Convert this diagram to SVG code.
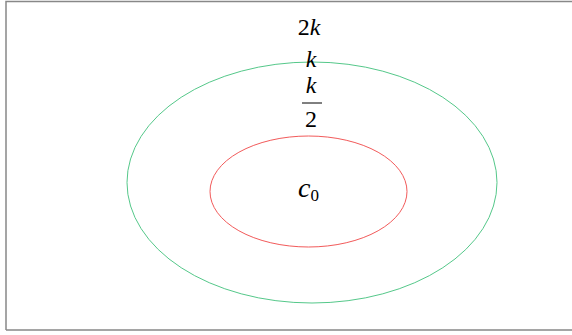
<svg xmlns="http://www.w3.org/2000/svg" width="572" height="335" viewBox="0 0 572 335">
<rect width="572" height="335" fill="#fff"/>
<path d="M6 330 V1.5 H572 M6 330 H572" fill="none" stroke="#888" stroke-width="1.5"/>
<g id="outer"><ellipse cx="312" cy="182.5" rx="185" ry="120.5" fill="none" stroke="#55c88a" stroke-width="1"/></g>
<g id="inner"><ellipse cx="308.5" cy="191.5" rx="98.5" ry="55.5" fill="none" stroke="#f25a5a" stroke-width="1"/></g>
<g id="labels" font-family="'Liberation Serif', 'Times New Roman', serif" font-size="24" fill="#000">
<text x="309" y="35" text-anchor="middle">2<tspan font-style="italic">k</tspan></text>
<text font-style="italic" x="311" y="67" text-anchor="middle">k</text>
<text font-style="italic" x="311" y="93" text-anchor="middle">k</text>
<line x1="302" y1="103" x2="322" y2="103" stroke="#000" stroke-width="1"/>
<text x="311" y="127" text-anchor="middle">2</text>
<text x="298" y="197"><tspan font-style="italic" font-size="28">c</tspan><tspan font-size="17" dy="4">0</tspan></text>
</g>
</svg>
